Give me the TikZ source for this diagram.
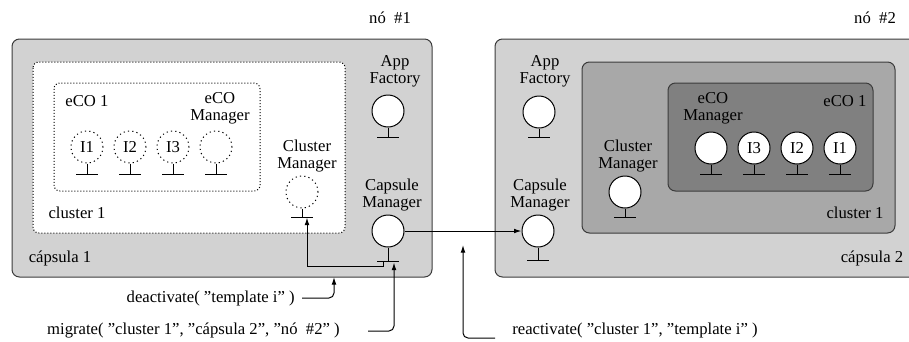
\documentclass[tikz,border=0pt]{standalone}
\usepackage{fontspec}
\setmainfont{Liberation Serif}
\usetikzlibrary{arrows.meta,calc}
\definecolor{capsfill}{RGB}{210,210,210}
\definecolor{clusfill}{RGB}{168,168,168}
\definecolor{ecofill}{RGB}{128,128,128}
\definecolor{edgegray}{RGB}{60,60,60}

% straight double quote
\newcommand\sq{\char34\relax}
% stem and foot under an object circle: #1 node name, #2 stem length
\newcommand\objstem[2]{%
  \draw[stemline] (#1.south) -- ++(0,#2) coordinate (#1-b) ++(-11,0) -- ++(22,0);}

\begin{document}
\begin{tikzpicture}[x=0.6pt,y=-0.6pt,
  font=\fontsize{10}{10}\selectfont,
  box/.style={draw=edgegray, line width=0.6pt, rounded corners=4.5pt},
  dotbox/.style={draw=black, line width=0.6pt, dash pattern=on 0.6pt off 1.2pt,
                 rounded corners=3.5pt},
  obj/.style={circle, draw, line width=0.6pt, fill=white, minimum size=19.2pt,
              inner sep=0pt},
  ghost/.style={circle, draw, line width=0.6pt, dash pattern=on 0.7pt off 1.9pt,
                minimum size=19.2pt, inner sep=0pt},
  stemline/.style={line width=0.6pt},
  lbl/.style={align=center, inner sep=0pt},
  txt/.style={inner sep=0pt},
  arr/.style={-{Latex[length=4.5pt,width=2.8pt]}, line width=0.6pt},
]
\useasboundingbox (0,0) rectangle (909,341);

% ---------------- node #1 ----------------
\node[txt] (n1) at (390,18) {nó\ \ \#1};
\draw[box, fill=capsfill] (12,39) rectangle (432,277);
\draw[dotbox, fill=white] (33,62) rectangle (345,233);
\draw[dotbox] (54,83) rectangle (260,191);

\node[txt] (caps1) at (60,258) {cápsula 1};
\node[txt] (clus1) at (77,213) {cluster 1};
\node[txt] (eco1) at (87,101) {eCO 1};
\node[lbl] (ecom1) at (220,108) {eCO\\Manager};

\node[ghost] (i11) at (87,147) {I1};
\node[ghost] (i12) at (130,147) {I2};
\node[ghost] (i13) at (173,147) {I3};
\node[ghost] (em1) at (216,147) {};
\foreach \o in {i11,i12,i13,em1} {\objstem{\o}{11}}

\node[lbl] (clml1) at (307,156) {Cluster\\Manager};
\node[ghost] (clm1) at (302,192) {};
\objstem{clm1}{9}

\node[lbl] (afl1) at (395,71) {App\\Factory};
\node[obj] (af1) at (388,111) {};
\objstem{af1}{10}

\node[lbl] (cml1) at (392,195) {Capsule\\Manager};
\node[obj] (cm1) at (388,231) {};
\objstem{cm1}{14}

% ---------------- node #2 ----------------
\node[txt] (n2) at (875,18) {nó\ \ \#2};
\begin{scope}
  \clip (0,0) rectangle (909,341);
  \draw[box, fill=capsfill] (495,39) rectangle (925,277);
\end{scope}
\draw[box, fill=clusfill] (582,62) rectangle (895,233);
\draw[box, fill=ecofill] (668,83) rectangle (873,191);

\node[txt] (caps2) at (872,258) {cápsula 2};
\node[txt] (clus2) at (855,213) {cluster 1};
\node[txt] (eco2) at (845,101) {eCO 1};
\node[lbl] (ecom2) at (713,108) {eCO\\Manager};

\node[obj] (em2) at (711,148) {};
\node[obj] (i23) at (754,148) {I3};
\node[obj] (i22) at (797,148) {I2};
\node[obj] (i21) at (840,148) {I1};
\foreach \o in {em2,i23,i22,i21} {\objstem{\o}{10}}

\node[lbl] (clml2) at (628,156) {Cluster\\Manager};
\node[obj] (clm2) at (625,192) {};
\objstem{clm2}{9}

\node[lbl] (afl2) at (545,71) {App\\Factory};
\node[obj] (af2) at (539,112) {};
\objstem{af2}{9}

\node[lbl] (cml2) at (540,195) {Capsule\\Manager};
\node[obj] (cm2) at (538,231) {};
\objstem{cm2}{13}

% ---------------- operations ----------------
\node[txt, anchor=east] (deact) at (295,298) {deactivate( \sq template i\sq\ )};
\node[txt, anchor=east] (mig) at (340,330)
  {migrate( \sq cluster 1\sq, \sq cápsula 2\sq, \sq nó\ \ \#2\sq\ )};
\node[txt, anchor=west] (react) at (512,330)
  {reactivate( \sq cluster 1\sq, \sq template i\sq\ )};

\coordinate (dtip) at (334,277);
\coordinate (rtip) at (463,245);

% capsule manager hands the cluster over to the remote capsule manager
\draw[arr] (cm1) -- (cm2);
% capsule manager tells the cluster manager to deactivate
\draw[arr] ($(cm1-b)+(-5,0)$) -- ++(0,5) -| ($(clm1-b)+(5,0)$);

\draw[arr, rounded corners=3pt] ($(deact.east)+(7,0)$) -| (dtip);
\draw[arr, rounded corners=3pt] ($(mig.east)+(28,1)$) -| ($(cm1-b)+(6,1)$);
\draw[arr, rounded corners=3pt] ($(react.west)+(-17,8)$) -| (rtip);
\end{tikzpicture}
\end{document}
